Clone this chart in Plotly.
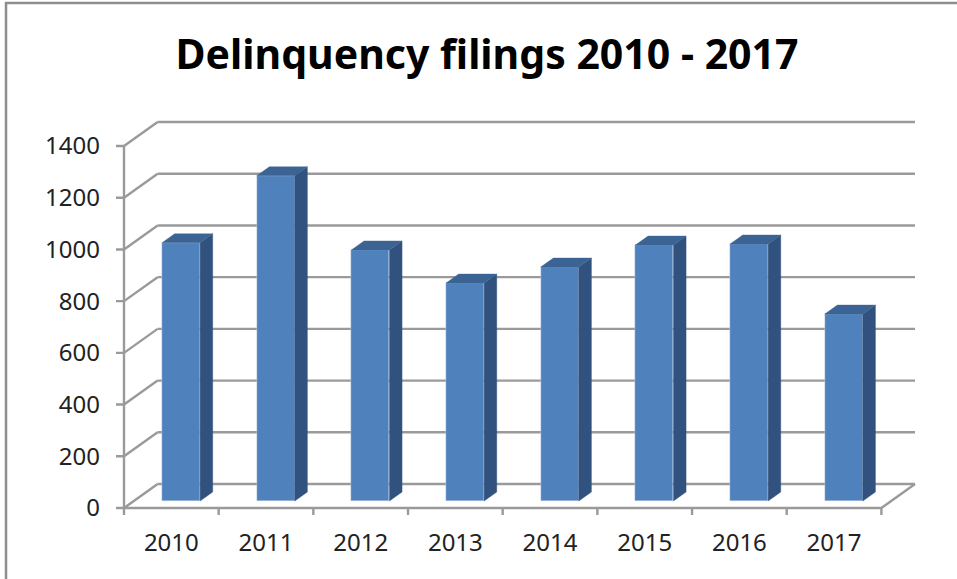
import plotly.graph_objects as go

years = ["2010", "2011", "2012", "2013", "2014", "2015", "2016", "2017"]
filings = [999, 1258, 971, 843, 905, 990, 994, 723]
y_ticks = [0, 200, 400, 600, 800, 1000, 1200, 1400]
title_text = "Delinquency filings 2010 - 2017"

# oblique projection of the chart's depth axis, in data units per unit of depth
DX, DY = 0.355, 92.8
BAR_W, Z_FRONT, Z_BACK = 0.402, 0.29, 0.665
N = len(years)
XMAX, YMAX = N + DX, y_ticks[-1] + DY
GRID, FRONT, SIDE, TOP = "#9a9a9a", "#4f81bd", "#31527f", "#3b6494"
EDGE = "#dbe5f1"
# the plot area is 804x398 px, with room round the frame for lines and tick marks
X_RANGE = [-0.1056, XMAX + 0.0317]
Y_RANGE = [-34.8, YMAX + 11.6]
TICK_X, TICK_Y = 0.0845, 27


def line(x0, y0, x1, y1, color=GRID, w=2.4, xref="x", yref="y"):
    return dict(type="line", xref=xref, yref=yref, x0=x0, y0=y0, x1=x1, y1=y1,
                layer="below", line=dict(color=color, width=w))


def frame_line(xs, ys):
    return go.Scatter(x=xs, y=ys, mode="lines",
                      line=dict(color=GRID, width=2.4), showlegend=False, hoverinfo="skip")


def paper_x(px):
    return (px - 114) / 804


def paper_y(py):
    return (517 - py) / 398


# back-wall grid lines and floor pass behind the bars
shapes = [line(DX, v + DY, XMAX, v + DY) for v in y_ticks]
# picture frame, top and left only
shapes.append(line(paper_x(5), paper_y(3), paper_x(957), paper_y(3), "#8e8e8e", 2.5, "paper", "paper"))
shapes.append(line(paper_x(6), paper_y(2), paper_x(6), paper_y(579), "#8e8e8e", 2.5, "paper", "paper"))

fig = go.Figure()
fig.add_trace(go.Bar(
    x=[i + 0.5 + Z_FRONT * DX for i in range(N)],
    y=filings,
    base=[Z_FRONT * DY] * N,
    width=BAR_W,
    marker=dict(color=FRONT, line=dict(color=EDGE, width=0.4)),
    showlegend=False,
))
for i, v in enumerate(filings):
    left = i + 0.5 + Z_FRONT * DX - BAR_W / 2
    right = left + BAR_W
    ox, oy = (Z_BACK - Z_FRONT) * DX, (Z_BACK - Z_FRONT) * DY
    y0, y1 = Z_FRONT * DY, Z_FRONT * DY + v
    fig.add_trace(go.Scatter(
        x=[right, right + ox, right + ox, right, right],
        y=[y0, y0 + oy, y1 + oy, y1, y0],
        mode="lines", fill="toself", fillcolor=SIDE,
        line=dict(color=SIDE, width=0.4), showlegend=False, hoverinfo="skip"))
    fig.add_trace(go.Scatter(
        x=[left, left + ox, right + ox, right, left],
        y=[y1, y1 + oy, y1 + oy, y1, y1],
        mode="lines", fill="toself", fillcolor=TOP,
        line=dict(color=TOP, width=0.4), showlegend=False, hoverinfo="skip"))

# left wall, axis lines and tick marks
for v in y_ticks:
    fig.add_trace(frame_line([-TICK_X, 0, DX], [v, v, v + DY]))
fig.add_trace(frame_line([0, 0], [y_ticks[-1], 0]))
fig.add_trace(frame_line([0, N, XMAX], [0, 0, DY]))
for i in range(N + 1):
    fig.add_trace(frame_line([i, i], [0, -TICK_Y]))

fig.update_layout(
    width=957, height=579, autosize=False,
    margin=dict(l=114, r=39, t=119, b=62, pad=0),
    paper_bgcolor="white", plot_bgcolor="white",
    font=dict(family="Noto Sans", color="#222222", size=24),
    title=dict(text=title_text, x=487 / 957, xanchor="center", xref="container",
               y=1 - 55 / 579, yanchor="middle", yref="container",
               font=dict(family="Noto Sans", size=41, color="black", weight="bold")),
    shapes=shapes,
    xaxis=dict(range=X_RANGE, showgrid=False, zeroline=False, showline=False,
               tickmode="array", tickvals=[i + 0.5 for i in range(N)], ticktext=years,
               ticks="", ticklabelstandoff=9),
    yaxis=dict(range=Y_RANGE, showgrid=False, zeroline=False, showline=False,
               tickmode="array", tickvals=y_ticks, ticks="", ticklabelstandoff=13),
    bargap=0,
)
fig.write_html("out.html", config=dict(displayModeBar=False),
               post_script="document.body.style.margin='0';")
